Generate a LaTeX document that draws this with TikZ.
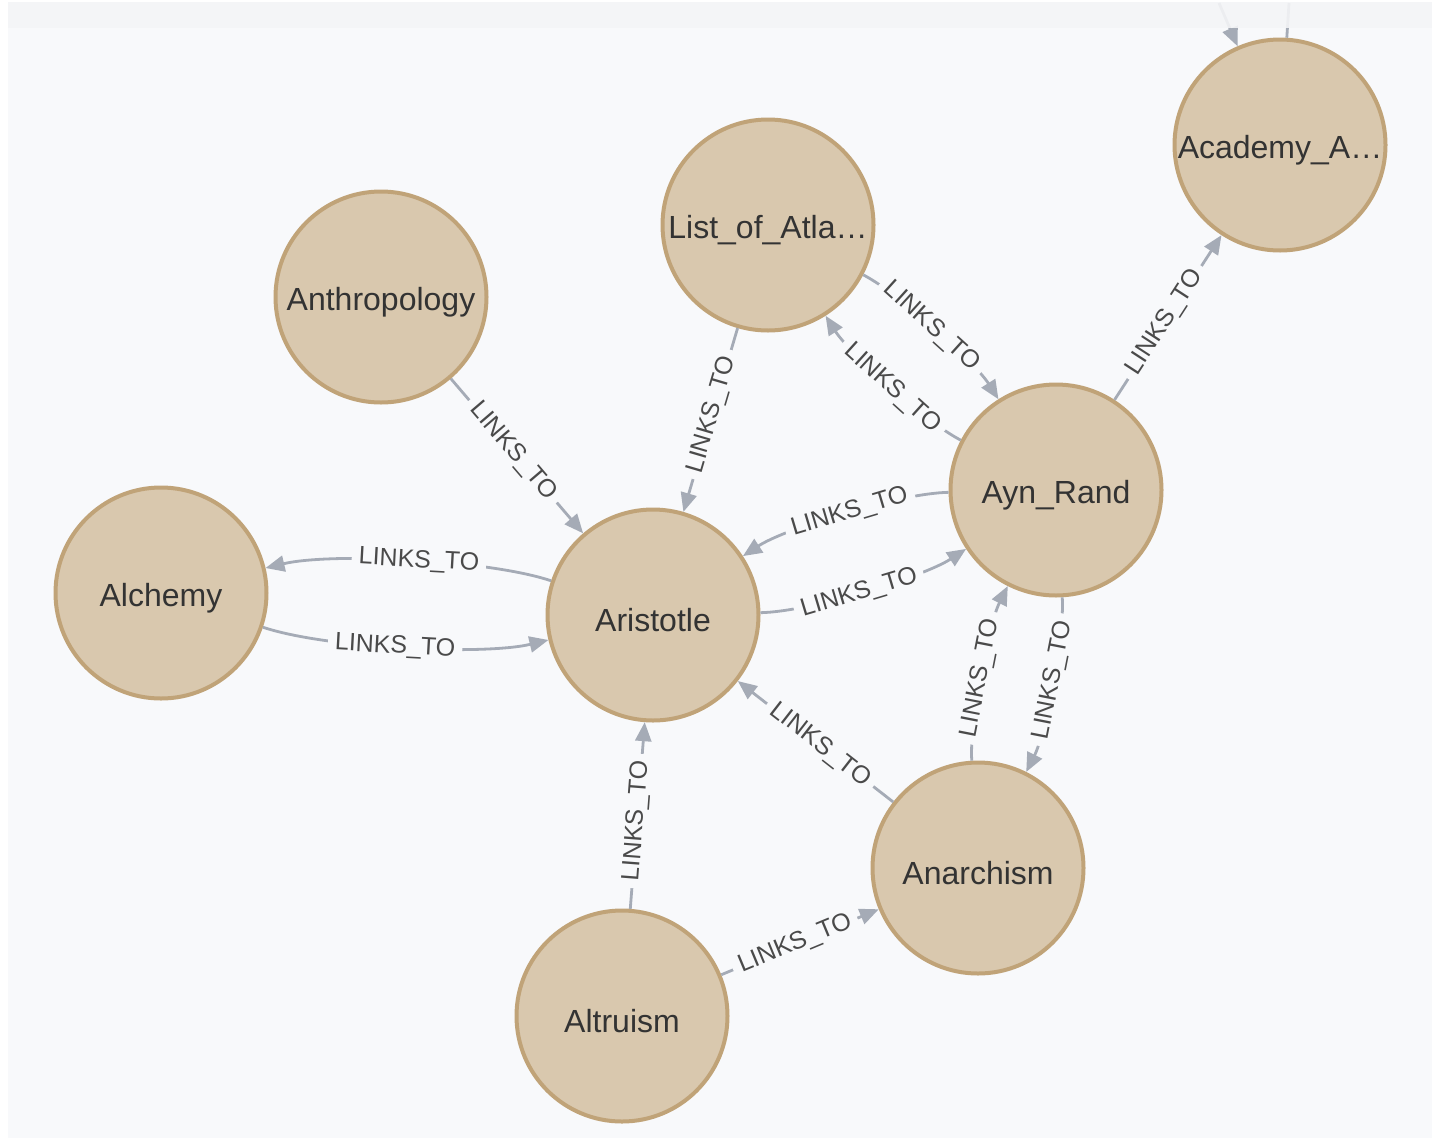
\documentclass[tikz,border=0pt]{standalone}
\usepackage{fontspec}
\setmainfont{Liberation Sans}
\usetikzlibrary{arrows.meta}
\definecolor{canvas}{HTML}{F8F9FB}
\definecolor{band}{HTML}{F4F5F7}
\definecolor{nodefill}{HTML}{D9C8AE}
\definecolor{nodeedge}{HTML}{C0A378}
\definecolor{relcol}{HTML}{A5ABB6}
\definecolor{nodetext}{HTML}{333333}
\definecolor{reltext}{HTML}{4A4A4A}
% node captions sit slightly below the circle centre
\newcommand\entname[1]{\raisebox{-5pt}[\height][\depth]{#1}}
\begin{document}
\begin{tikzpicture}[x=1pt,y=-1pt,
  entity/.style={circle, draw=nodeedge, fill=nodefill, line width=4pt,
    minimum size=211pt, inner sep=0pt, text=nodetext,
    font=\fontsize{32}{34}\selectfont},
  rel/.style={draw=relcol, line width=2.8pt,
    -{Triangle[length=19pt,width=16pt]}},
  stub/.style={draw=relcol, line width=2.8pt},
  rellabel/.style={sloped, pos=0.47, fill=canvas, inner xsep=7pt,
    inner ysep=1pt, text=reltext, font=\fontsize{25}{26}\selectfont},
  pair/.style={looseness=0.6}
]
% page and canvas
\fill[white] (0,0) rectangle (1442,1138);
\useasboundingbox (0,0) rectangle (1442,1138);
\fill[canvas] (8,2) rectangle (1432,1138);

% nodes
\node[entity] (acad)  at (1280,145) {\entname{Academy\_A…}};
\node[entity] (list)  at (768,225)  {\entname{List\_of\_Atla…}};
\node[entity] (anth)  at (381,297)  {\entname{Anthropology}};
\node[entity] (alch)  at (161,593)  {\entname{Alchemy}};
\node[entity] (arist) at (653,615)  {\entname{Aristotle}};
\node[entity] (rand)  at (1056,490) {\entname{Ayn\_Rand}};
\node[entity] (anar)  at (978,868)  {\entname{Anarchism}};
\node[entity] (altr)  at (622,1016) {\entname{Altruism}};

% relationships leaving the visible area
\coordinate (offa) at (1219,3);
\coordinate (offb) at (1289,3);
\draw[rel] (offa) -- (acad);
\draw[stub] (acad) -- (offb);

% relationships
\draw[rel] (anth) to node[rellabel]{LINKS\_TO} (arist);
\draw[rel] (list) to node[rellabel]{LINKS\_TO} (arist);
\draw[rel] (list) to[bend left=15, pair] node[rellabel]{LINKS\_TO} (rand);
\draw[rel] (rand) to[bend left=15, pair] node[rellabel]{LINKS\_TO} (list);
\draw[rel] (rand) to node[rellabel]{LINKS\_TO} (acad);
\draw[rel] (rand) to[bend right=16, pair] node[rellabel]{LINKS\_TO} (arist);
\draw[rel] (arist) to[bend right=16, pair] node[rellabel]{LINKS\_TO} (rand);
\draw[rel] (arist) to[bend right=16, pair] node[rellabel]{LINKS\_TO} (alch);
\draw[rel] (alch) to[bend right=16, pair] node[rellabel]{LINKS\_TO} (arist);
\draw[rel] (anar) to node[rellabel]{LINKS\_TO} (arist);
\draw[rel] (anar) to[bend left=15, pair] node[rellabel]{LINKS\_TO} (rand);
\draw[rel] (rand) to[bend left=15, pair] node[rellabel]{LINKS\_TO} (anar);
\draw[rel] (altr) to node[rellabel]{LINKS\_TO} (arist);
\draw[rel] (altr) to node[rellabel]{LINKS\_TO} (anar);

% header band over the top edge
\fill[band, fill opacity=0.9] (8,2) rectangle (1432,28);
\end{tikzpicture}
\end{document}
